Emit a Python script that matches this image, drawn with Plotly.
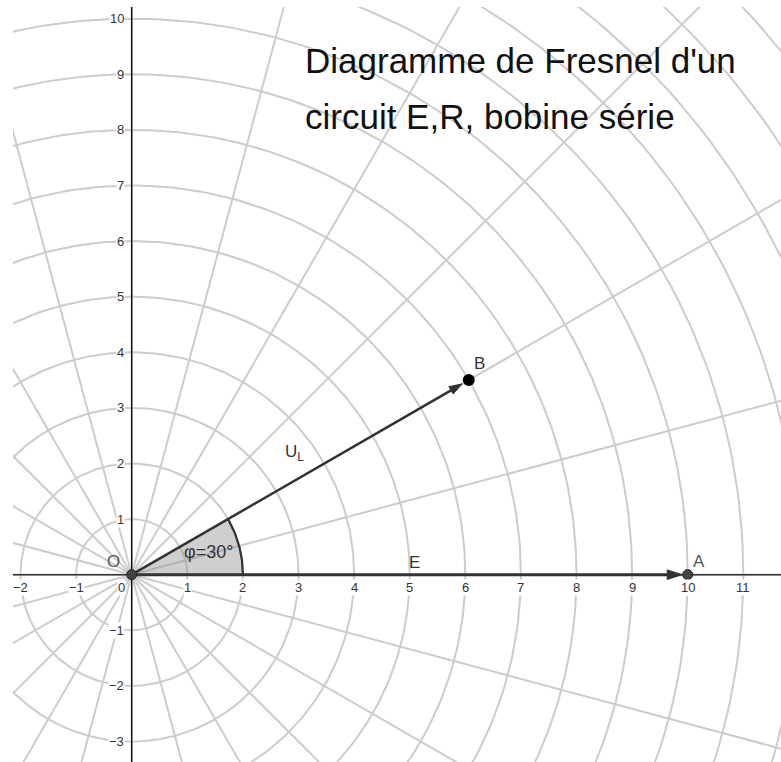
import numpy as np
import plotly.graph_objects as go

# ---- data -------------------------------------------------------------
# visible window of the plane (data units)
x_range = [-2.135, 11.678]
y_range = [-3.369, 10.21]

# polar grid: circles of integer radius, rays every 15 degrees
grid_radii = list(range(1, 17))
grid_angles_deg = list(range(0, 360, 15))

# phasors (magnitude, angle in degrees)
E_mag, E_angle = 10, 0
UL_mag, UL_angle = 7, 30
phi_deg = 30
sector_radius = 2

# axis tick labels
x_ticks = [-2, -1, 1, 2, 3, 4, 5, 6, 7, 8, 9, 10, 11]
y_ticks = [-3, -2, -1, 1, 2, 3, 4, 5, 6, 7, 8, 9, 10]

title_lines = ["Diagramme de Fresnel d'un", "circuit E,R, bobine série"]

# ---- styles -----------------------------------------------------------
FONT = "Liberation Sans, Arial, sans-serif"
GRID = "rgb(204,204,204)"
DARK = "#333333"
PX = 55.6  # pixels per data unit


def polar(r, deg):
    a = np.radians(deg)
    return r * np.cos(a), r * np.sin(a)


fig = go.Figure()

# grid circles
gx, gy = [], []
t = np.linspace(0, 2 * np.pi, 361)
for r in grid_radii:
    gx += list(r * np.cos(t)) + [None]
    gy += list(r * np.sin(t)) + [None]
fig.add_trace(go.Scatter(x=gx, y=gy, mode="lines",
                         line=dict(color=GRID, width=2), hoverinfo="skip"))

# grid rays
rx, ry = [], []
for d in grid_angles_deg:
    ex, ey = polar(max(grid_radii), d)
    rx += [0, ex, None]
    ry += [0, ey, None]
fig.add_trace(go.Scatter(x=rx, y=ry, mode="lines",
                         line=dict(color=GRID, width=2), hoverinfo="skip"))

# axes through the origin
fig.add_trace(go.Scatter(x=x_range, y=[0, 0], mode="lines",
                         line=dict(color=DARK, width=1.6), hoverinfo="skip"))
fig.add_trace(go.Scatter(x=[0, 0], y=y_range, mode="lines",
                         line=dict(color="black", width=1.3), hoverinfo="skip"))

# angle sector phi between E and U_L
arc = np.linspace(E_angle, E_angle + phi_deg, 60)
ax_, ay_ = polar(sector_radius, arc)
fig.add_trace(go.Scatter(x=[0] + list(ax_) + [0], y=[0] + list(ay_) + [0],
                         mode="lines", fill="toself",
                         fillcolor="rgba(140,140,140,0.42)",
                         line=dict(width=0), hoverinfo="skip"))
fig.add_trace(go.Scatter(x=ax_, y=ay_, mode="lines",
                         line=dict(color=DARK, width=2.2), hoverinfo="skip"))


def vector(mag, deg, width, head_len_px, head_half_px, standoff_px):
    """Shaft + filled arrowhead ending just short of the end point."""
    ux, uy = np.cos(np.radians(deg)), np.sin(np.radians(deg))
    nx, ny = -uy, ux
    tip = mag - standoff_px / PX
    base = tip - head_len_px / PX
    hw = head_half_px / PX
    fig.add_trace(go.Scatter(x=[0, base * ux], y=[0, base * uy], mode="lines",
                             line=dict(color=DARK, width=width), hoverinfo="skip"))
    hx = [tip * ux, base * ux + hw * nx, base * ux - hw * nx, tip * ux]
    hy = [tip * uy, base * uy + hw * ny, base * uy - hw * ny, tip * uy]
    fig.add_trace(go.Scatter(x=hx, y=hy, mode="lines", fill="toself",
                             fillcolor=DARK, line=dict(color=DARK, width=1),
                             hoverinfo="skip"))


vector(E_mag, E_angle, 3, 15, 4.8, 5.5)
vector(UL_mag, UL_angle, 2.5, 13, 4.2, 7.5)

# points O, A, B
Ax, Ay = polar(E_mag, E_angle)
Bx, By = polar(UL_mag, UL_angle)
fig.add_trace(go.Scatter(x=[0, Ax], y=[0, Ay], mode="markers",
                         marker=dict(size=10, color="#444444",
                                     line=dict(color="#222222", width=1)),
                         hoverinfo="skip"))
fig.add_trace(go.Scatter(x=[Bx], y=[By], mode="markers",
                         marker=dict(size=12, color="black"), hoverinfo="skip"))

annotations = []


def label(x, y, text, size=16, color="#444444", **kw):
    annotations.append(dict(x=x, y=y, xref="x", yref="y", text=text,
                            showarrow=False, font=dict(family=FONT, size=size,
                                                       color=color), **kw))


# tick labels
for v in x_ticks:
    s = str(v).replace("-", "\u2212")
    label(v, 0, s, size=13, color="#333333", yshift=-13,
          bgcolor="white", borderpad=0)
for v in y_ticks:
    s = str(v).replace("-", "\u2212")
    label(0, v, s, size=13, color="#333333", xanchor="right", xshift=-7,
          bgcolor="white", borderpad=0)
label(0, 0, "0", size=13, color="#333333", xshift=-10, yshift=-13,
      bgcolor="white", borderpad=0)

# point / vector labels
label(0, 0, "O", size=17, color="#555555", xshift=-18.5, yshift=13.5)
label(Ax, Ay, "A", size=17, color="#555555", xshift=11, yshift=13)
label(Bx, By, "B", size=17, color="#333333", xshift=11, yshift=17)
label(E_mag / 2, 0, "E", size=17, color="#333333", xshift=5, yshift=12)
label(*polar(UL_mag / 2, UL_angle), "U<sub>L</sub>", size=17, color="#333333",
      xshift=-6, yshift=24)
label(*polar(sector_radius * 0.72, phi_deg / 2), "\u03c6=30\u00b0",
      size=18, color="#333333", xshift=-1, yshift=2)

# title
label(3.08, 9.25, title_lines[0], size=35, color="#111111", xanchor="left")
label(3.08, 8.24, title_lines[1], size=35, color="#111111", xanchor="left")

fig.update_layout(
    width=781, height=762,
    margin=dict(l=13, r=0, t=7, b=0),
    paper_bgcolor="white", plot_bgcolor="white",
    showlegend=False,
    xaxis=dict(range=x_range, visible=False, fixedrange=True),
    yaxis=dict(range=y_range, visible=False, fixedrange=True),
    annotations=annotations,
)

fig.write_html("out.html")
